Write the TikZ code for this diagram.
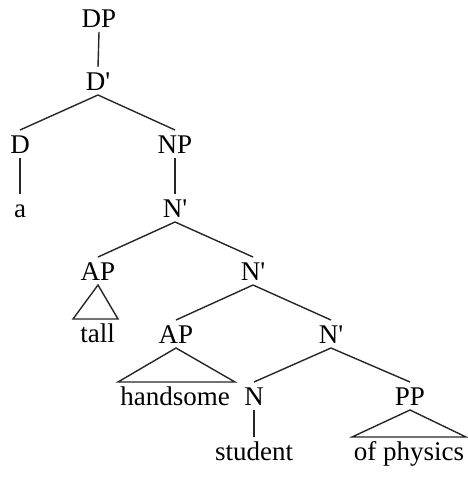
\documentclass[tikz,border=0pt]{standalone}
\usepackage{fontspec}
\newfontfamily\treefont{Liberation Serif}
\usetikzlibrary{calc}
\begin{document}
\begin{tikzpicture}[x=1pt,y=-1pt,
  lbl/.style={anchor=base,inner sep=0pt,outer xsep=0pt,outer ysep=5pt,
    text height=18pt,text depth=0pt,text=black,
    font=\treefont\fontsize{27}{30}\selectfont},
  branch/.style={draw=black!85,line width=1.4pt},
  tri/.style={draw=black!85,line width=1.4pt,line join=miter}]
\useasboundingbox (0,0) rectangle (467,477);
\node[lbl] (dp)  at (99,27)  {DP};
\node[lbl] (dbar) at (98,90) {D'};
\node[lbl] (d)   at (20,153) {D};
\node[lbl] (np)  at (175,153) {NP};
\node[lbl] (a)   at (20,217) {a};
\node[lbl] (nb1) at (175,217) {N'};
\node[lbl] (ap1) at (98,280) {AP};
\node[lbl] (nb2) at (253,280) {N'};
\node[lbl] (tall) at (97.5,342) {tall};
\node[lbl] (ap2) at (176,343) {AP};
\node[lbl] (nb3) at (331,343) {N'};
\node[lbl] (hand) at (175,405) {handsome};
\node[lbl] (n)   at (254,405) {N};
\node[lbl] (pp)  at (410,405) {PP};
\node[lbl] (stud) at (254,460) {student};
\node[lbl] (phys) at (409,460) {of physics};
\draw[branch] (dp.south) -- (dbar.north);
\draw[branch] (dbar.south) -- (d.north);
\draw[branch] (dbar.south) -- (np.north);
\draw[branch] (d.south) -- (a.north);
\draw[branch] (np.south) -- (nb1.north);
\draw[branch] (nb1.south) -- (ap1.north);
\draw[branch] (nb1.south) -- (nb2.north);
\draw[branch] (nb2.south) -- (ap2.north);
\draw[branch] (nb2.south) -- (nb3.north);
\draw[branch] (nb3.south) -- (n.north);
\draw[branch] (nb3.south) -- (pp.north);
\draw[branch] (n.south) -- (stud.north);
\draw[tri] (ap1.south) -- ($(tall.north)+(-24.5,0)$) -- ($(tall.north)+(20.5,0)$) -- cycle;
\draw[tri] (ap2.south) -- ($(hand.north)+(-57,0)$) -- ($(hand.north)+(60,0)$) -- cycle;
\draw[tri] (pp.south) -- ($(phys.north)+(-57,0)$) -- ($(phys.north)+(57,0)$) -- cycle;
\end{tikzpicture}
\end{document}
